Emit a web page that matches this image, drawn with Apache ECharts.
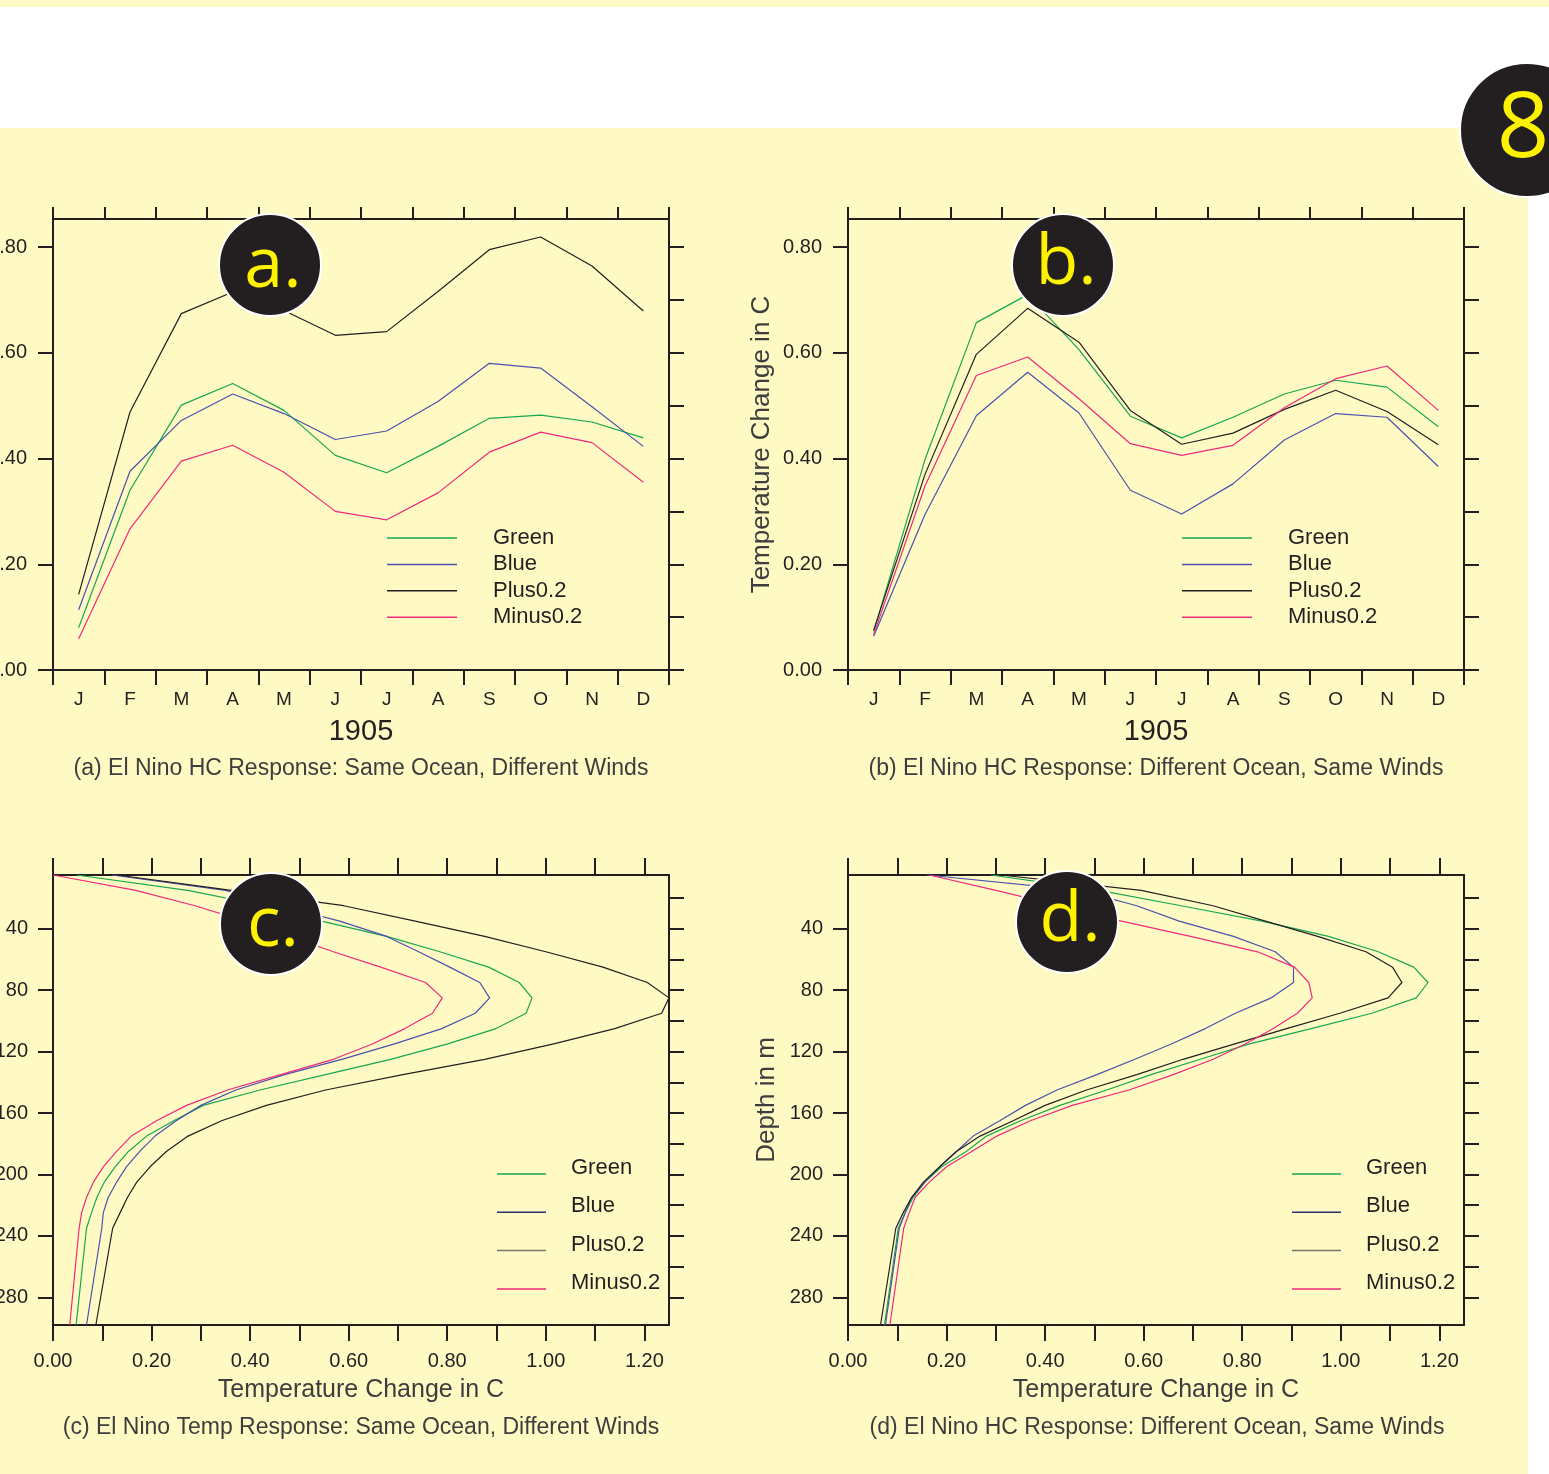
<!DOCTYPE html>
<html>
<head>
<meta charset="utf-8">
<title>El Nino HC / Temp response</title>
<script src="https://cdn.jsdelivr.net/npm/echarts@6/dist/echarts.min.js"></script>
<style>
  html, body { margin: 0; padding: 0; background: #ffffff; }
  #chart { width: 1549px; height: 1474px; }
</style>
</head>
<body>
<div id="chart"></div>
<script>
// x categories for the 1905 monthly panels
var months = ['J', 'F', 'M', 'A', 'M', 'J', 'J', 'A', 'S', 'O', 'N', 'D']
var names = ['Green', 'Blue', 'Plus0.2', 'Minus0.2']

// (a) El Nino HC response: same ocean, different winds
var aGreen = [0.080, 0.340, 0.501, 0.542, 0.491, 0.406, 0.373, 0.423, 0.476, 0.482, 0.469, 0.439]
var aBlue = [0.114, 0.376, 0.472, 0.522, 0.485, 0.436, 0.452, 0.508, 0.580, 0.571, 0.498, 0.423]
var aPlus = [0.143, 0.488, 0.674, 0.715, 0.680, 0.633, 0.640, 0.716, 0.795, 0.819, 0.764, 0.679]
var aMinus = [0.059, 0.267, 0.395, 0.425, 0.374, 0.300, 0.284, 0.335, 0.412, 0.450, 0.430, 0.355]

// (b) El Nino HC response: different ocean, same winds
var bGreen = [0.073, 0.398, 0.657, 0.710, 0.606, 0.480, 0.439, 0.478, 0.522, 0.548, 0.535, 0.460]
var bBlue = [0.064, 0.294, 0.481, 0.563, 0.486, 0.340, 0.295, 0.352, 0.435, 0.485, 0.478, 0.385]
var bPlus = [0.075, 0.370, 0.597, 0.684, 0.620, 0.491, 0.427, 0.448, 0.493, 0.529, 0.489, 0.426]
var bMinus = [0.067, 0.348, 0.557, 0.592, 0.513, 0.428, 0.406, 0.425, 0.496, 0.551, 0.575, 0.491]

// depth levels (m) for the profile panels
var depths = [5, 15, 25, 35, 45, 55, 65, 75, 85, 95, 105, 115, 125, 135, 145, 155, 165, 175, 185, 195, 205, 215, 225, 235, 298]

// (c) El Nino temp response: same ocean, different winds
var cGreen = [0.048, 0.273, 0.430, 0.545, 0.677, 0.785, 0.884, 0.946, 0.972, 0.960, 0.899, 0.801, 0.685, 0.553, 0.420, 0.305, 0.245, 0.190, 0.153, 0.126, 0.104, 0.089, 0.078, 0.068, 0.047]
var cBlue = [0.120, 0.350, 0.460, 0.582, 0.677, 0.742, 0.805, 0.866, 0.886, 0.857, 0.789, 0.693, 0.586, 0.470, 0.371, 0.300, 0.250, 0.207, 0.176, 0.149, 0.129, 0.112, 0.102, 0.099, 0.068]
var cPlus = [0.130, 0.362, 0.590, 0.735, 0.876, 1.000, 1.116, 1.206, 1.250, 1.235, 1.140, 1.016, 0.876, 0.710, 0.553, 0.433, 0.342, 0.274, 0.230, 0.197, 0.170, 0.151, 0.136, 0.121, 0.087]
var cMinus = [0.000, 0.168, 0.288, 0.390, 0.480, 0.569, 0.665, 0.756, 0.790, 0.770, 0.714, 0.648, 0.569, 0.462, 0.354, 0.271, 0.210, 0.159, 0.129, 0.102, 0.082, 0.068, 0.058, 0.053, 0.034]

// (d) El Nino HC response: different ocean, same winds
var dGreen = [0.290, 0.510, 0.676, 0.840, 0.975, 1.076, 1.148, 1.177, 1.153, 1.063, 0.940, 0.815, 0.715, 0.615, 0.525, 0.430, 0.350, 0.281, 0.240, 0.190, 0.156, 0.132, 0.116, 0.102, 0.074]
var dBlue = [0.160, 0.470, 0.586, 0.672, 0.782, 0.867, 0.904, 0.904, 0.859, 0.786, 0.725, 0.656, 0.582, 0.505, 0.424, 0.360, 0.308, 0.254, 0.220, 0.186, 0.156, 0.129, 0.116, 0.104, 0.076]
var dPlus = [0.310, 0.595, 0.741, 0.847, 0.953, 1.051, 1.105, 1.124, 1.096, 0.998, 0.890, 0.785, 0.680, 0.586, 0.484, 0.400, 0.335, 0.268, 0.220, 0.186, 0.153, 0.129, 0.112, 0.097, 0.066]
var dMinus = [0.165, 0.300, 0.430, 0.555, 0.695, 0.831, 0.906, 0.935, 0.942, 0.912, 0.863, 0.806, 0.741, 0.660, 0.570, 0.455, 0.370, 0.302, 0.251, 0.200, 0.165, 0.136, 0.124, 0.113, 0.085]

// tick values
var hcLabels = [0, 0.2, 0.4, 0.6, 0.8]
var hcMinor = [0, 0.1, 0.2, 0.3, 0.4, 0.5, 0.6, 0.7, 0.8]
var tempLabels = [0, 0.2, 0.4, 0.6, 0.8, 1.0, 1.2]
var tempMinor = [0, 0.1, 0.2, 0.3, 0.4, 0.5, 0.6, 0.7, 0.8, 0.9, 1.0, 1.1, 1.2]
var depthLabels = [40, 80, 120, 160, 200, 240, 280]
var depthMinor = [20, 40, 60, 80, 100, 120, 140, 160, 180, 200, 220, 240, 260, 280]

var FONT = '"Liberation Sans", Arial, sans-serif'
var INK = '#231f20'
var GREY = '#3d3d3d'
var colors = ['#16a84f', '#4b52ad', '#231f20', '#ee2a7b']
var legendColorsLower = ['#16a84f', '#2e3170', '#77776a', '#ee2a7b']

var axisLine = { show: true, onZero: false, lineStyle: { color: INK, width: 2 } }
function tick (len, vals) {
  var t = { show: true, inside: false, length: len, lineStyle: { color: INK, width: 2 } }
  if (vals) t.customValues = vals
  return t
}
function fix2 (v) { return Number(v).toFixed(2) }

var grids = [
  { left: 53, top: 219, width: 616, height: 451 },
  { left: 848, top: 219, width: 616, height: 451 },
  { left: 53, top: 875, width: 616, height: 450 },
  { left: 848, top: 875, width: 616, height: 450 }
]
grids.forEach(function (g) { g.containLabel = false; g.outerBoundsMode = 'none' })

var xAxis = []
var yAxis = []
for (var g = 0; g < 4; g++) {
  if (g < 2) {
    xAxis.push({
      type: 'category', gridIndex: g, position: 'bottom', data: months, boundaryGap: true,
      axisLine: axisLine, axisTick: { show: true, inside: false, length: 15, interval: 0, alignWithLabel: false, lineStyle: { color: INK, width: 2 } },
      axisLabel: { interval: 0, margin: 20, fontSize: 19, fontFamily: FONT, color: INK },
      name: '1905', nameLocation: 'middle', nameGap: 47,
      nameTextStyle: { fontSize: 29, fontFamily: FONT, color: INK },
      splitLine: { show: false }
    })
    xAxis.push({
      type: 'category', gridIndex: g, position: 'top', data: months, boundaryGap: true,
      axisLine: axisLine, axisTick: { show: true, inside: false, length: 12, interval: 0, lineStyle: { color: INK, width: 2 } },
      axisLabel: { show: false }, splitLine: { show: false }
    })
    yAxis.push({
      type: 'value', gridIndex: g, position: 'left', min: 0, max: 0.853,
      axisLine: axisLine, axisTick: tick(15, hcLabels),
      axisLabel: { customValues: hcLabels, formatter: fix2, margin: 26, fontSize: 20, fontFamily: FONT, color: INK },
      splitLine: { show: false },
      name: g === 1 ? 'Temperature Change in C' : '', nameLocation: 'middle', nameGap: 73, nameRotate: 90,
      nameTextStyle: { fontSize: 26, fontFamily: FONT, color: GREY }
    })
    yAxis.push({
      type: 'value', gridIndex: g, position: 'right', min: 0, max: 0.853,
      axisLine: axisLine, axisTick: tick(15, hcMinor),
      axisLabel: { show: false }, splitLine: { show: false }
    })
  } else {
    xAxis.push({
      type: 'value', gridIndex: g, position: 'bottom', min: 0, max: 1.25,
      axisLine: axisLine, axisTick: tick(16, tempMinor),
      axisLabel: { customValues: tempLabels, formatter: fix2, margin: 26, fontSize: 20, fontFamily: FONT, color: INK },
      name: 'Temperature Change in C', nameLocation: 'middle', nameGap: 53,
      nameTextStyle: { fontSize: 25, fontFamily: FONT, color: GREY },
      splitLine: { show: false }
    })
    xAxis.push({
      type: 'value', gridIndex: g, position: 'top', min: 0, max: 1.25,
      axisLine: axisLine, axisTick: tick(17, tempMinor),
      axisLabel: { show: false }, splitLine: { show: false }
    })
    yAxis.push({
      type: 'value', gridIndex: g, position: 'left', min: 5, max: 298, inverse: true,
      axisLine: axisLine, axisTick: tick(15, depthLabels),
      axisLabel: { customValues: depthLabels, margin: 25, fontSize: 20, fontFamily: FONT, color: INK },
      splitLine: { show: false },
      name: g === 3 ? 'Depth in m' : '', nameLocation: 'middle', nameGap: 68, nameRotate: 90,
      nameTextStyle: { fontSize: 26, fontFamily: FONT, color: GREY }
    })
    yAxis.push({
      type: 'value', gridIndex: g, position: 'right', min: 5, max: 298, inverse: true,
      axisLine: axisLine, axisTick: tick(15, depthMinor),
      axisLabel: { show: false }, splitLine: { show: false }
    })
  }
}

var panelData = [
  [aGreen, aBlue, aPlus, aMinus],
  [bGreen, bBlue, bPlus, bMinus],
  [cGreen, cBlue, cPlus, cMinus],
  [dGreen, dBlue, dPlus, dMinus]
]

var series = []
panelData.forEach(function (set, g) {
  set.forEach(function (vals, k) {
    var data = g < 2 ? vals : vals.map(function (v, i) { return [v, depths[i]] })
    series.push({
      name: names[k], type: 'line', xAxisIndex: 2 * g, yAxisIndex: 2 * g,
      data: data, symbol: 'none', smooth: false, clip: true,
      lineStyle: { color: colors[k], width: 1.2 }, itemStyle: { color: colors[k] },
      emphasis: { disabled: true }, z: 3
    })
  })
})

// lower legends: swatch sits a little below the text, so the icon box carries an empty top part
var lowIcon = 'path://M0,0 L49,0 L49,0.01 L0,0.01 Z M0,12 L49,12 L49,13.5 L0,13.5 Z'
function makeLegend (left, top, upper) {
  var lc = upper ? colors : legendColorsLower
  return {
    orient: 'vertical', left: left, top: top, padding: 0, selectedMode: false,
    icon: upper ? 'rect' : lowIcon,
    itemWidth: upper ? 70 : 49, itemHeight: upper ? 1.5 : 13.5, itemGap: upper ? 4.4 : 16.3,
    itemStyle: { borderWidth: 0 },
    textStyle: {
      fontSize: 22, lineHeight: 22, fontFamily: FONT, color: INK,
      padding: upper ? [0, 0, 0, 31] : [0, 0, 0, 20]
    },
    data: names.map(function (n, k) { return { name: n, itemStyle: { color: lc[k] } } })
  }
}

var LETTER = '70px "Open Sans", "Noto Sans", sans-serif'
function badge (cx, cy, r, text, font, tx, ty) {
  return [
    { type: 'circle', shape: { cx: cx, cy: cy, r: r }, style: { fill: INK, stroke: '#ffffff', lineWidth: 2 }, z: 100, silent: true },
    { type: 'text', x: tx, y: ty, style: { text: text, font: font, fill: '#fff200', align: 'center', verticalAlign: 'middle' }, z: 101, silent: true }
  ]
}
function caption (x, y, text) {
  return { type: 'text', x: x, y: y, style: { text: text, font: '23px ' + FONT, fill: GREY, align: 'center', verticalAlign: 'middle' }, z: 50, silent: true }
}

var graphic = [
  { type: 'rect', shape: { x: 0, y: 7, width: 1549, height: 121 }, style: { fill: '#ffffff' }, z: -10, silent: true },
  { type: 'rect', shape: { x: 1528, y: 128, width: 30, height: 1346 }, style: { fill: '#ffffff' }, z: -10, silent: true },
  caption(361, 769, '(a) El Nino HC Response: Same Ocean, Different Winds'),
  caption(1156, 769, '(b) El Nino HC Response: Different Ocean, Same Winds'),
  caption(361, 1428, '(c) El Nino Temp Response: Same Ocean, Different Winds'),
  caption(1157, 1428, '(d) El Nino HC Response: Different Ocean, Same Winds')
]
  .concat(badge(270, 265, 51, 'a.', LETTER, 273, 267))
  .concat(badge(1063, 265, 51, 'b.', LETTER, 1066, 264))
  .concat(badge(271, 924, 51, 'c.', LETTER, 273, 926))
  .concat(badge(1067, 922, 51, 'd.', LETTER, 1070, 921))
  .concat(badge(1527, 130, 67, '8', '92px "Open Sans", "Noto Sans", sans-serif', 1523, 131))

var chart = echarts.init(document.getElementById('chart'), null, { renderer: 'canvas' })
chart.setOption({
  animation: false,
  backgroundColor: '#fff9c4',
  grid: grids,
  xAxis: xAxis,
  yAxis: yAxis,
  legend: [
    makeLegend(387, 527, true),
    makeLegend(1182, 527, true),
    makeLegend(497, 1157, false),
    makeLegend(1292, 1157, false)
  ],
  series: series,
  graphic: graphic
})
</script>
</body>
</html>
